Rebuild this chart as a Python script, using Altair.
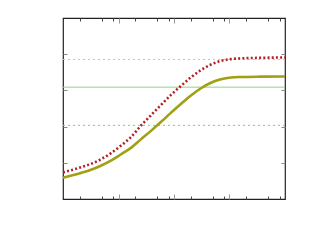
import altair as alt
import pandas as pd

# ---- data ----
x_vals = [1, 2.1, 3.2, 4.8, 7.3, 11, 17, 25, 38, 58, 88, 134, 202, 306, 464, 703, 1064, 1611, 3696, 10000]
red_vals = [0.147, 0.175, 0.194, 0.219, 0.253, 0.294, 0.344, 0.403, 0.461, 0.519,
            0.575, 0.625, 0.672, 0.712, 0.743, 0.763, 0.773, 0.777, 0.780, 0.782]
olive_vals = [0.118, 0.144, 0.162, 0.184, 0.212, 0.246, 0.284, 0.328, 0.375, 0.425,
              0.476, 0.526, 0.572, 0.612, 0.642, 0.661, 0.671, 0.674, 0.676, 0.677]
ref_dotted_top = [0.771]
ref_solid = [0.618]
ref_dotted_low = [0.407]
x_major = [10, 100, 1000]
x_minor = [2, 5, 8, 20, 50, 80, 200, 500, 800, 2000, 5000, 8000]
y_ticks = [0.2, 0.4, 0.6, 0.8]

df = pd.DataFrame({"x": x_vals, "red": red_vals, "olive": olive_vals})
xscale = alt.Scale(type="log", domain=[1, 10000], nice=False)
yscale = alt.Scale(domain=[0, 1], nice=False)

red = alt.Chart(df).mark_line(color="#b52025", strokeWidth=2.6, strokeDash=[2, 2.2],
                               interpolate="monotone").encode(
    x=alt.X("x:Q", scale=xscale, axis=None),
    y=alt.Y("red:Q", scale=yscale, axis=None),
)
olive = alt.Chart(df).mark_line(color="#a0a012", strokeWidth=2.6,
                                 interpolate="monotone").encode(
    x=alt.X("x:Q", scale=xscale, axis=None),
    y=alt.Y("olive:Q", scale=yscale, axis=None),
)


def hrule(vals, color, dash=None):
    kw = dict(color=color, strokeWidth=1)
    if dash:
        kw["strokeDash"] = dash
    return alt.Chart(pd.DataFrame({"v": vals})).mark_rule(**kw).encode(
        y=alt.Y("v:Q", scale=yscale, axis=None)
    )


r1 = hrule(ref_dotted_top, "#b4cdb4", [2, 3])
r2 = hrule(ref_solid, "#8ad48a")
r3 = hrule(ref_dotted_low, "#7ccc7c", [2, 3])


def xaxis_layer(orient, values, size, color):
    d = pd.DataFrame({"t": values})
    return alt.Chart(d).mark_point(opacity=0).encode(
        x=alt.X("t:Q", scale=xscale, axis=alt.Axis(
            orient=orient, values=values, tickSize=size, offset=-size, labels=False,
            domain=False, grid=False, title=None, tickColor=color, tickWidth=1,
            minExtent=0, maxExtent=0)),
    )


def yaxis_layer(orient, values, size, color):
    d = pd.DataFrame({"t": values})
    return alt.Chart(d).mark_point(opacity=0).encode(
        y=alt.Y("t:Q", scale=yscale, axis=alt.Axis(
            orient=orient, values=values, tickSize=size, offset=-size, labels=False,
            domain=False, grid=False, title=None, tickColor=color, tickWidth=1,
            minExtent=0, maxExtent=0)),
    )


layers = [
    r1, r2, r3, olive, red,
    xaxis_layer("bottom", x_major, 5, "#999999"),
    xaxis_layer("bottom", x_minor, 3, "#444444"),
    xaxis_layer("top", x_major, 5, "#999999"),
    xaxis_layer("top", x_minor, 3, "#444444"),
    yaxis_layer("left", y_ticks, 4, "#888888"),
    yaxis_layer("right", y_ticks, 4, "#888888"),
]

chart = alt.layer(*layers).resolve_axis(x="independent", y="independent").properties(
    width=222, height=181,
    padding={"left": 49, "top": 9, "right": 10, "bottom": 10},
).configure_view(stroke="#222222", strokeWidth=1.2)

chart.save("out.html", embed_options={"renderer": "svg", "actions": False})
